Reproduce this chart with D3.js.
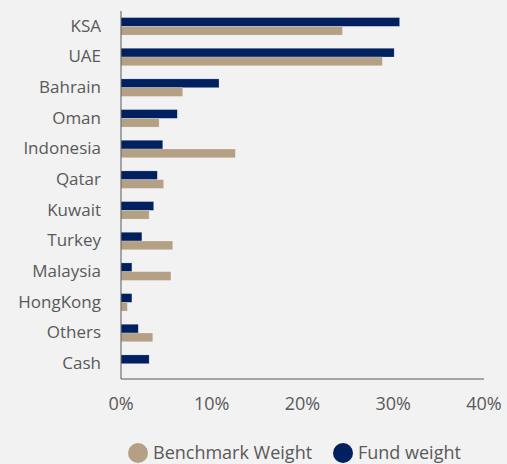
<!DOCTYPE html>
<html>
  <head>
    <meta charset="utf-8" />
    <script src="https://d3js.org/d3.v7.min.js"></script>
    <style>
      body { margin: 0; background: #f2f2f2; }
      svg { display: block; }
      text { font-family: "Open Sans", Lato, sans-serif; fill: #595959; }
    </style>
  </head>
  <body>
    <svg width="507" height="464"></svg>
    <script>
      // data (percent)
      const countries = ["KSA", "UAE", "Bahrain", "Oman", "Indonesia", "Qatar", "Kuwait", "Turkey", "Malaysia", "HongKong", "Others", "Cash"];
      const fundWeight = [30.7, 30.1, 10.8, 6.2, 4.6, 4.0, 3.6, 2.3, 1.2, 1.2, 1.9, 3.1];
      const benchmarkWeight = [24.4, 28.8, 6.8, 4.2, 12.6, 4.7, 3.1, 5.7, 5.5, 0.7, 3.5, 0];
      const xTicks = [0, 10, 20, 30, 40];
      const seriesNames = ["Benchmark Weight", "Fund weight"];
      const colors = { fund: "#002060", bench: "#b4a084" };

      const svg = d3.select("svg");
      const plotLeft = 121, plotRight = 484, plotTop = 11, plotBottom = 379;

      const x = d3.scaleLinear().domain([0, 40]).range([plotLeft, plotRight]);
      const y = d3.scaleBand().domain(countries).range([plotTop, plotBottom]).paddingInner(0.43).paddingOuter(0.215);

      const rows = countries.map((c, i) => ({ c, fund: fundWeight[i], bench: benchmarkWeight[i] }));
      const half = y.bandwidth() / 2;

      const g = svg.append("g");
      // fund bars (upper)
      g.selectAll(".fund").data(rows).enter().append("rect")
        .attr("x", x(0))
        .attr("y", d => y(d.c))
        .attr("width", d => x(d.fund) - x(0))
        .attr("height", half)
        .attr("fill", colors.fund)
        .attr("stroke", "#ffffff").attr("stroke-opacity", 0.35).attr("stroke-width", 0.6);
      // benchmark bars (lower)
      g.selectAll(".bench").data(rows.filter(d => d.bench > 0)).enter().append("rect")
        .attr("x", x(0))
        .attr("y", d => y(d.c) + half)
        .attr("width", d => x(d.bench) - x(0))
        .attr("height", half)
        .attr("fill", colors.bench)
        .attr("stroke", "#ffffff").attr("stroke-opacity", 0.35).attr("stroke-width", 0.6);

      // axes lines
      svg.append("line").attr("x1", plotLeft).attr("x2", plotLeft).attr("y1", plotTop).attr("y2", plotBottom)
        .attr("stroke", "#595959").attr("stroke-width", 1);
      svg.append("line").attr("x1", plotLeft).attr("x2", plotRight).attr("y1", plotBottom).attr("y2", plotBottom)
        .attr("stroke", "#595959").attr("stroke-width", 1);

      // category labels
      svg.selectAll(".cat").data(countries).enter().append("text")
        .attr("x", 101)
        .attr("y", d => y(d) + y.bandwidth() / 2)
        .attr("dy", "0.32em")
        .attr("text-anchor", "end")
        .attr("font-size", 17)
        .text(d => d);

      // x tick labels
      svg.selectAll(".tick").data(xTicks).enter().append("text")
        .attr("x", d => x(d))
        .attr("y", 410)
        .attr("text-anchor", "middle")
        .attr("font-size", 18)
        .text(d => d + "%");

      // legend
      const legend = [
        { name: seriesNames[0], color: colors.bench, cx: 138 },
        { name: seriesNames[1], color: colors.fund, cx: 343 }
      ];
      const lg = svg.selectAll(".legend").data(legend).enter().append("g");
      lg.append("circle").attr("cx", d => d.cx).attr("cy", 453).attr("r", 10).attr("fill", d => d.color);
      lg.append("text").attr("x", d => d.cx + 15).attr("y", 453).attr("dy", "0.35em")
        .attr("font-size", 18).text(d => d.name);
    </script>
  </body>
</html>
